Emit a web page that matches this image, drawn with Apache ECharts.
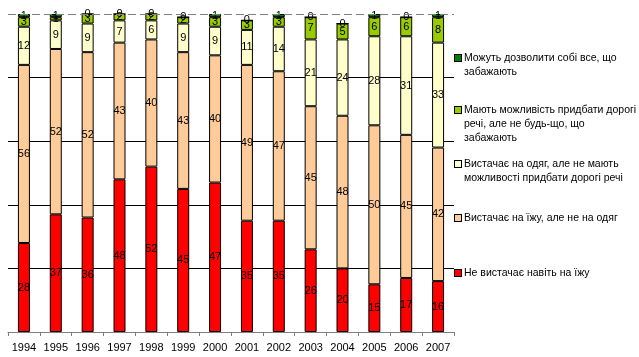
<!DOCTYPE html>
<html><head><meta charset="utf-8">
<script src="https://cdn.jsdelivr.net/npm/echarts@6/dist/echarts.min.js"></script>
<style>html,body{margin:0;padding:0;background:#fff}#c{width:639px;height:357px}</style>
</head><body><div id="c"></div>
<script>
const years = ['1994','1995','1996','1997','1998','1999','2000','2001','2002','2003','2004','2005','2006','2007'];
const notEvenFood = [28,37,36,48,52,45,47,35,35,26,20,15,17,16];
const foodNotClothes = [56,52,52,43,40,43,40,49,47,45,48,50,45,42];
const clothesNotExpensive = [12,9,9,7,6,9,9,11,14,21,24,28,31,33];
const expensiveNotAll = [3,1,3,2,2,2,3,3,3,7,5,6,6,8];
const everything = [1,1,0,0,0,0,1,0,1,0,0,1,0,1];
const yTicks = [0,20,40,60,80,100];

const names = [
  'Не вистачає навіть на їжу',
  'Вистачає на їжу, але не на одяг',
  'Вистачає на одяг, але не мають можливості придбати дорогі речі',
  'Мають можливість придбати дорогі речі, але не будь-що, що забажають',
  'Можуть дозволити собі все, що забажають'
];
const wrappedLines = {};
wrappedLines[names[0]] = ['Не вистачає навіть на їжу'];
wrappedLines[names[1]] = ['Вистачає на їжу, але не на одяг'];
wrappedLines[names[2]] = ['Вистачає на одяг, але не мають', 'можливості придбати дорогі речі'];
wrappedLines[names[3]] = ['Мають можливість придбати дорогі', 'речі, але не будь-що, що', 'забажають'];
wrappedLines[names[4]] = ['Можуть дозволити собі все, що', 'забажають'];
const colors = ['#FF0000','#FFCC99','#FFFFCC','#99CC00','#008000'];
const datas = [notEvenFood, foodNotClothes, clothesNotExpensive, expensiveNotAll, everything];

const FONT = '"Liberation Sans", Arial, sans-serif';
const LH = 14;
const firstLineCenters = [273, 218, 164, 110, 58];
const legends = names.map((n, i) => ({
  data: [n], orient: 'vertical', left: 450,
  top: firstLineCenters[i] - LH / 2,
  padding: 0, icon: 'none', itemWidth: 0, itemHeight: 7, itemGap: 0,
  selectedMode: false,
  formatter: (name) => wrappedLines[name].map((l, k) =>
    (k === 0 ? '{sq|\u00a0}{g|\u00a0}' : '{ind|\u00a0}') + '{t|' + l + '}').join('\n'),
  textStyle: {
    fontFamily: FONT, fontSize: 10.5, color: '#000', lineHeight: LH,
    rich: {
      sq: { width: 6, height: 6, backgroundColor: colors[i], borderColor: '#000', borderWidth: 1, fontSize: 6, lineHeight: LH },
      g: { width: 3, fontSize: 6, lineHeight: LH },
      ind: { width: 9, fontSize: 6, lineHeight: LH },
      t: { fontFamily: FONT, fontSize: 10.5, color: '#000', lineHeight: LH }
    }
  }
}));

const series = names.map((n, i) => ({
  name: n, type: 'bar', stack: 'all', barWidth: 12,
  data: datas[i],
  itemStyle: { color: colors[i], borderColor: '#000', borderWidth: 1 },
  label: { show: true, position: 'inside', fontFamily: FONT, fontSize: 11, color: '#000' },
  markLine: i === 0 ? { silent: true, symbol: 'none', label: { show: false },
    lineStyle: { color: '#808080', type: [8, 4], width: 1 }, data: [{ yAxis: 100 }] } : undefined
}));

const chart = echarts.init(document.getElementById('c'));
chart.setOption({
  animation: false,
  grid: { left: 8, right: 185, top: 14, bottom: 25 },
  legend: legends,
  xAxis: {
    type: 'category', data: years,
    axisLine: { lineStyle: { color: '#808080' } },
    axisTick: { show: true, length: 4, lineStyle: { color: '#808080' } },
    axisLabel: { fontFamily: FONT, fontSize: 11, color: '#000', margin: 10, interval: 0 }
  },
  yAxis: {
    type: 'value', min: yTicks[0], max: yTicks[yTicks.length - 1], interval: 20,
    axisLine: { show: false }, axisTick: { show: false }, axisLabel: { show: false },
    splitLine: { lineStyle: { color: ['#000','#000','#000','#000','#000','transparent'], width: 1 } }
  },
  series: series
});
</script></body></html>
